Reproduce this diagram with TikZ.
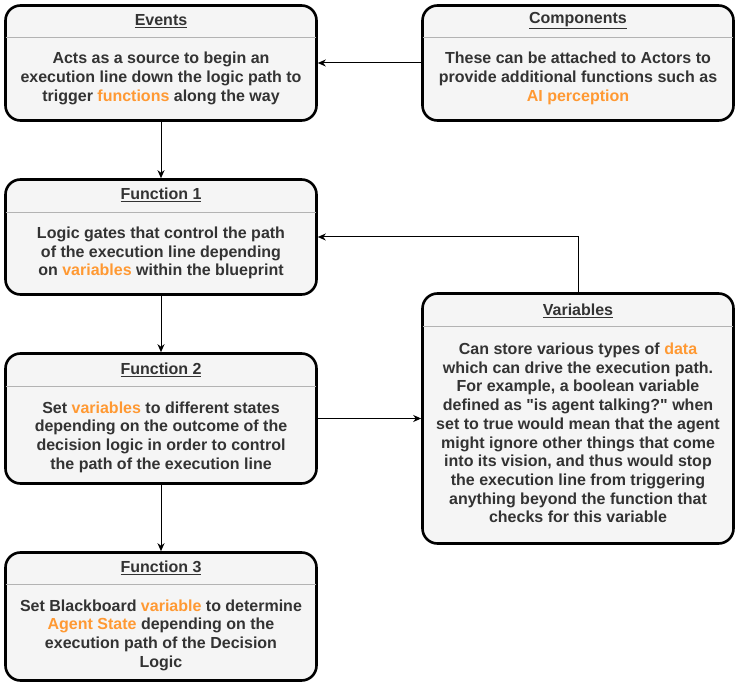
\documentclass[tikz,border=0pt]{standalone}
\usepackage{fontspec}
\setmainfont{Liberation Sans}[Ligatures=TeXOff]
\usepackage{xcolor}
\usetikzlibrary{arrows.meta}
\definecolor{boxfill}{HTML}{F5F5F5}
\definecolor{txt}{HTML}{333333}
\definecolor{hl}{HTML}{FF9933}
\definecolor{sep}{HTML}{B3B3B3}
\newcommand{\hl}[1]{\textcolor{hl}{#1}}

\begin{document}
\begin{tikzpicture}[x=1pt,y=-1pt,
  block/.style={draw=black, line width=2.6pt, rounded corners=15pt, fill=boxfill,
    minimum width=311pt, inner sep=0pt},
  title/.style={text=txt, font=\bfseries\fontsize{16}{19}\selectfont},
  body/.style={text=txt, align=center, font=\bfseries\fontsize{16}{18.7}\selectfont},
  sepline/.style={draw=sep, line width=1pt},
  >={Stealth[length=8pt,width=7pt,inset=2.5pt]}]
\useasboundingbox (0,0) rectangle (739,684);

% boxes
\node[block, minimum height=115pt] (ev) at (161,63) {};
\node[block, minimum height=115pt] (comp) at (578,63) {};
\node[block, minimum height=115pt] (f1) at (161,237) {};
\node[block, minimum height=130pt] (f2) at (161,418.5) {};
\node[block, minimum height=128pt] (f3) at (161,616.5) {};
\node[block, minimum height=250pt] (var) at (578,418.5) {};

% header lines
\draw[sepline] (6,38) -- (316,38);
\draw[sepline] (423,38) -- (733,38);
\draw[sepline] (6,213) -- (316,213);
\draw[sepline] (6,387) -- (316,387);
\draw[sepline] (6,584) -- (316,584);
\draw[sepline] (423,327) -- (733,327);

% titles
\node[title] (ev-t) at (161,21) {\underline{Events}};
\node[title] (comp-t) at (578,21) {\underline{Components}};
\node[title] (f1-t) at (161,195) {\underline{Function 1}};
\node[title] (f2-t) at (161,370) {\underline{Function 2}};
\node[title] (f3-t) at (161,568) {\underline{Function 3}};
\node[title] (var-t) at (578,311) {\underline{Variables}};

% texts
\node[body] (ev-b) at (161,78.5) {Acts as a source to begin an\\execution line down the logic path to\\trigger \hl{functions} along the way};
\node[body] (comp-b) at (578,78.5) {These can be attached to Actors to\\provide additional functions such as\\\hl{AI perception}};
\node[body] (f1-b) at (161,253) {Logic gates that control the path\\of the execution line depending\\on \hl{variables} within the blueprint};
\node[body] (f2-b) at (161,437) {Set \hl{variables} to different states\\depending on the outcome of the\\decision logic in order to control\\the path of the execution line};
\node[body] (f3-b) at (161,635) {Set Blackboard \hl{variable} to determine\\\hl{Agent State} depending on the\\execution path of the Decision\\Logic};
\node[body] (var-b) at (578,433) {Can store various types of \hl{data}\\which can drive the execution path.\\For example, a boolean variable\\defined as "is agent talking?" when\\set to true would mean that the agent\\might ignore other things that come\\into its vision, and thus would stop\\the execution line from triggering\\anything beyond the function that\\checks for this variable};

% connectors
\draw[->, line width=1pt] (comp) -- (ev);
\draw[->, line width=1pt] (ev) -- (f1);
\draw[->, line width=1pt] (f1) -- (f2);
\draw[->, line width=1pt] (f2) -- (f3);
\draw[->, line width=1pt] (f2) -- (var);
\draw[->, line width=1pt] (var.north) |- (f1.east);

\end{tikzpicture}
\end{document}
